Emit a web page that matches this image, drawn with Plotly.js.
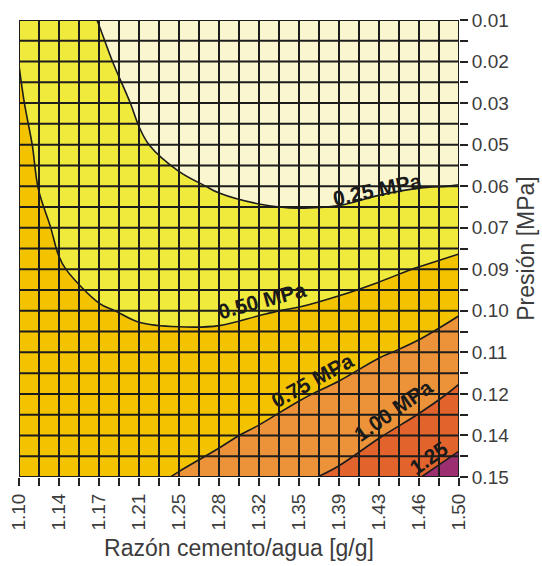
<!DOCTYPE html>
<html>
<head>
<meta charset="utf-8">
<script src="https://cdn.plot.ly/plotly-3.0.1.min.js"></script>
<style>html,body{margin:0;padding:0;background:#fff;}</style>
</head>
<body>
<div id="chart" style="width:542px;height:566px;"></div>
<script>
// Razón cemento/agua [g/g] sample positions
const ratio = [1.100, 1.118, 1.136, 1.173, 1.209, 1.245, 1.282, 1.318, 1.355, 1.391, 1.427, 1.464, 1.500];
// Presión sample positions [MPa]
const pressure = [0.0100, 0.0227, 0.0355, 0.0482, 0.0609, 0.0736, 0.0864, 0.0991, 0.1118, 0.1245, 0.1373, 0.1500];
// Estimated response (MPa) read from the contour map, rows = pressure, cols = ratio
const row00 = [0.45, 0.38, 0.33, 0.245, 0.17, 0.13, 0.11, 0.10, 0.10, 0.10, 0.11, 0.12, 0.13];
const row01 = [0.497, 0.40, 0.35, 0.28, 0.19, 0.15, 0.13, 0.12, 0.11, 0.11, 0.12, 0.13, 0.14];
const row02 = [0.53, 0.42, 0.38, 0.305, 0.235, 0.17, 0.15, 0.14, 0.13, 0.13, 0.14, 0.15, 0.16];
const row03 = [0.58, 0.46, 0.41, 0.34, 0.262, 0.215, 0.18, 0.17, 0.16, 0.16, 0.17, 0.18, 0.19];
const row04 = [0.61, 0.495, 0.45, 0.37, 0.30, 0.27, 0.24, 0.22, 0.21, 0.215, 0.23, 0.245, 0.252];
const row05 = [0.64, 0.53, 0.48, 0.41, 0.34, 0.33, 0.30, 0.29, 0.285, 0.29, 0.32, 0.35, 0.38];
const row06 = [0.66, 0.57, 0.51, 0.455, 0.41, 0.40, 0.38, 0.39, 0.40, 0.43, 0.46, 0.51, 0.57];
const row07 = [0.68, 0.60, 0.55, 0.51, 0.485, 0.475, 0.475, 0.49, 0.51, 0.54, 0.59, 0.66, 0.73];
const row08 = [0.70, 0.63, 0.58, 0.55, 0.54, 0.54, 0.545, 0.575, 0.62, 0.66, 0.73, 0.79, 0.90];
const row09 = [0.71, 0.66, 0.62, 0.59, 0.60, 0.61, 0.62, 0.66, 0.73, 0.79, 0.87, 0.93, 1.03];
const row10 = [0.72, 0.68, 0.65, 0.63, 0.66, 0.68, 0.72, 0.78, 0.85, 0.92, 0.99, 1.08, 1.19];
const row11 = [0.73, 0.70, 0.68, 0.67, 0.71, 0.76, 0.82, 0.90, 0.975, 1.03, 1.13, 1.245, 1.35];

// Tick labels
const xTickLabels = ['1.10','1.14','1.17','1.21','1.25','1.28','1.32','1.35','1.39','1.43','1.46','1.50'];
const yTickLabels = ['0.01','0.02','0.03','0.05','0.06','0.07','0.09','0.10','0.11','0.12','0.14','0.15'];

// Contour labels
const contourLabels = ['0.25 MPa', '0.50 MPa', '0.75 MPa', '1.00 MPa', '1.25'];
const labelX = [1.4255, 1.3209, 1.3664, 1.4400, 1.4727];
const labelY = [0.0618, 0.0960, 0.1203, 0.1295, 0.1440];
const labelAngle = [-12, -15, -29, -35, -35];

const bandColors = ['#faf7d0', '#efea3c', '#f3c300', '#ec9238', '#e3632c', '#9c2f70'];

const z = [row00,row01,row02,row03,row04,row05,row06,row07,row08,row09,row10,row11];

const xMin = 1.10, xMax = 1.50, yMin = 0.01, yMax = 0.15;
const nCells = 22;
const xTickVals = xTickLabels.map((_, k) => xMin + k * (xMax - xMin) / (xTickLabels.length - 1));
const yTickVals = yTickLabels.map((_, k) => yMin + k * (yMax - yMin) / (yTickLabels.length - 1));

const colorscale = bandColors.map((c, i) => [i / (bandColors.length - 1), c]);

const trace = {
  type: 'contour',
  x: ratio,
  y: pressure,
  z: z,
  colorscale: colorscale,
  showscale: false,
  contours: {start: 0.25, end: 1.25, size: 0.25, coloring: 'fill', showlabels: false},
  line: {color: '#1c1c1c', width: 1.6, smoothing: 1},
  hoverinfo: 'skip'
};

const shapes = [];
for (let k = 0; k <= nCells; k++) {
  const xv = xMin + k * (xMax - xMin) / nCells;
  const yv = yMin + k * (yMax - yMin) / nCells;
  shapes.push({type: 'line', layer: 'above', xref: 'x', yref: 'y', x0: xv, x1: xv, y0: yMin, y1: yMax,
               line: {color: '#1c1c1c', width: 2}});
  shapes.push({type: 'line', layer: 'above', xref: 'x', yref: 'y', x0: xMin, x1: xMax, y0: yv, y1: yv,
               line: {color: '#1c1c1c', width: 2}});
}

const annotations = contourLabels.map((t, i) => ({
  text: t, x: labelX[i], y: labelY[i], xref: 'x', yref: 'y', showarrow: false,
  textangle: labelAngle[i], xanchor: 'center', yanchor: 'middle',
  font: {family: 'Liberation Sans, Arial, sans-serif', size: 21, color: '#1a1a1a', weight: 'bold'}
}));

const tickFont = {family: 'Liberation Sans, Arial, sans-serif', size: 19, color: '#3c3c3c'};
const titleFont = {family: 'Liberation Sans, Arial, sans-serif', size: 23, color: '#3c3c3c'};

const layout = {
  width: 542, height: 566,
  margin: {l: 19, r: 83, t: 20, b: 89},
  paper_bgcolor: '#ffffff', plot_bgcolor: '#ffffff',
  showlegend: false,
  xaxis: {
    range: [xMin, xMax], autorange: false, showgrid: false, zeroline: false, showline: false,
    tickmode: 'array', tickvals: xTickVals, ticktext: xTickLabels, tickangle: -90,
    ticks: 'outside', ticklen: 8, tickwidth: 2, tickcolor: '#222',
    minor: {tick0: xMin, dtick: (xMax - xMin) / nCells, ticks: 'outside', ticklen: 8, tickwidth: 2, tickcolor: '#222', showgrid: false},
    tickfont: tickFont,
    title: {text: 'Razón cemento/agua [g/g]', font: titleFont, standoff: 10},
    automargin: false
  },
  yaxis: {
    range: [yMax, yMin], autorange: false, side: 'right', showgrid: false, zeroline: false, showline: false,
    tickmode: 'array', tickvals: yTickVals, ticktext: yTickLabels,
    ticks: 'outside', ticklen: 8, tickwidth: 2, tickcolor: '#222',
    minor: {tick0: yMin, dtick: (yMax - yMin) / nCells, ticks: 'outside', ticklen: 8, tickwidth: 2, tickcolor: '#222', showgrid: false},
    tickfont: tickFont,
    title: {text: 'Presión [MPa]', font: titleFont, standoff: 9},
    automargin: false
  },
  shapes: shapes,
  annotations: annotations
};

Plotly.newPlot('chart', [trace], layout, {displayModeBar: false, staticPlot: true});
</script>
</body>
</html>
